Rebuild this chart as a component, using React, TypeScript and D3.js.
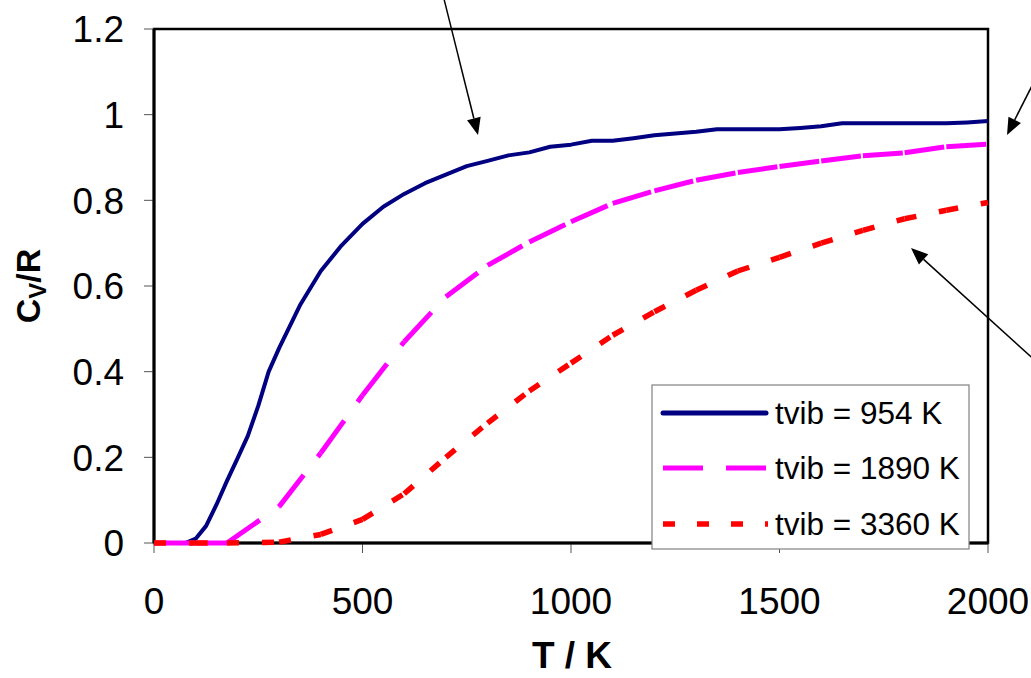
import React from 'react';
import * as d3 from 'd3';

// temperatures (K) for each curve
const tempsBlue = [0, 50, 75, 100, 125, 150, 175, 200, 225, 250, 275, 300, 350, 400, 450, 500, 550, 600, 650, 700, 750, 800, 850, 900, 950, 1000, 1050, 1100, 1150, 1200, 1250, 1300, 1350, 1400, 1450, 1500, 1550, 1600, 1650, 1700, 1750, 1800, 1850, 1900, 1950, 2000];
const cvBlue = [0, 0, 0, 0.01, 0.04, 0.09, 0.145, 0.197, 0.25, 0.32, 0.4, 0.455, 0.555, 0.635, 0.695, 0.745, 0.785, 0.815, 0.84, 0.86, 0.88, 0.892, 0.905, 0.912, 0.925, 0.93, 0.939, 0.939, 0.945, 0.952, 0.956, 0.96, 0.966, 0.966, 0.966, 0.966, 0.969, 0.973, 0.98, 0.98, 0.98, 0.98, 0.98, 0.98, 0.982, 0.985];

const tempsCoarse = [0, 100, 175, 300, 400, 500, 600, 700, 800, 900, 1000, 1100, 1200, 1300, 1400, 1500, 1600, 1700, 1800, 1900, 2000];
const cvMagenta = [0, 0, 0, 0.085, 0.21, 0.345, 0.47, 0.575, 0.648, 0.703, 0.75, 0.793, 0.822, 0.847, 0.865, 0.879, 0.892, 0.904, 0.911, 0.925, 0.931];
const cvRed = [0, 0, 0, 0.002, 0.02, 0.055, 0.115, 0.2, 0.28, 0.355, 0.42, 0.485, 0.54, 0.59, 0.635, 0.667, 0.7, 0.73, 0.757, 0.777, 0.795];

const seriesNames = ['tvib = 954 K', 'tvib = 1890 K', 'tvib = 3360 K'];
const xTicks = [0, 500, 1000, 1500, 2000];
const yTicks = [0, 0.2, 0.4, 0.6, 0.8, 1, 1.2];

const W = 1031, H = 678;
const font = '"Liberation Sans", Arial, sans-serif';

const Arrow = ({ x1, y1, x2, y2 }: { x1: number; y1: number; x2: number; y2: number }) => {
  const a = Math.atan2(y2 - y1, x2 - x1);
  const len = 17, half = 7;
  const bx = x2 - len * Math.cos(a), by = y2 - len * Math.sin(a);
  const p1 = [bx + half * Math.sin(a), by - half * Math.cos(a)];
  const p2 = [bx - half * Math.sin(a), by + half * Math.cos(a)];
  return (
    <g>
      <line x1={x1} y1={y1} x2={bx} y2={by} stroke="#000" strokeWidth={1.5} />
      <polygon points={`${x2},${y2} ${p1[0]},${p1[1]} ${p2[0]},${p2[1]}`} fill="#000" />
    </g>
  );
};

export default function App() {
  const x = d3.scaleLinear().domain([0, 2000]).range([154, 988]);
  const y = d3.scaleLinear().domain([0, 1.2]).range([543, 29]);
  const line = d3.line<[number, number]>().x(d => x(d[0])).y(d => y(d[1]));

  const blue: [number, number][] = tempsBlue.map((t, i) => [t, cvBlue[i]]);
  const magenta: [number, number][] = tempsCoarse.map((t, i) => [t, cvMagenta[i]]);
  const red: [number, number][] = tempsCoarse.map((t, i) => [t, cvRed[i]]);

  // dash pattern restarts at each data point, like the spreadsheet renderer
  const segments = (pts: [number, number][]) => d3.pairs(pts).map(p => line(p) as string);

  const [x0, x1] = x.range();
  const [yb, yt] = y.range();

  const legendRows = [413, 468, 524];

  return (
    <svg width={W} height={H} style={{ position: 'absolute', left: 0, top: 0, background: '#fff' }} fontFamily={font}>
      <rect x={0} y={0} width={W} height={H} fill="#fff" />
      {/* frame */}
      <rect x={x0} y={yt} width={x1 - x0} height={yb - yt} fill="none" stroke="#000" strokeWidth={2.5} />
      {/* y ticks */}
      {yTicks.map(t => (
        <g key={'y' + t}>
          <line x1={x0 - 10} x2={x0} y1={y(t)} y2={y(t)} stroke="#555" strokeWidth={1} />
          <text x={124} y={y(t)} dy="0.36em" textAnchor="end" fontSize={37}>{d3.format('~g')(t)}</text>
        </g>
      ))}
      {/* x ticks */}
      {xTicks.map(t => (
        <g key={'x' + t}>
          <line x1={x(t)} x2={x(t)} y1={yb} y2={yb + 10} stroke="#555" strokeWidth={1} />
          <text x={x(t)} y={614} textAnchor="middle" fontSize={37}>{t}</text>
        </g>
      ))}
      <line x1={x0} x2={x0} y1={yt} y2={yb} stroke="#000" strokeWidth={3} />
      <line x1={x0} x2={x1} y1={yb} y2={yb} stroke="#000" strokeWidth={3} />

      {/* curves */}
      <path d={line(blue) as string} fill="none" stroke="#000080" strokeWidth={4} strokeLinejoin="round" />
      {segments(magenta).map((d, i) => (
        <path key={'m' + i} d={d} fill="none" stroke="#FF00FF" strokeWidth={5} strokeDasharray="40 23" />
      ))}
      {segments(red).map((d, i) => (
        <path key={'r' + i} d={d} fill="none" stroke="#FF0000" strokeWidth={5.5} strokeDasharray="12 23" />
      ))}

      {/* legend */}
      <rect x={652} y={385} width={317} height={164} fill="#fff" stroke="#808080" strokeWidth={1.2} />
      <line x1={663} x2={766} y1={legendRows[0]} y2={legendRows[0]} stroke="#000080" strokeWidth={5} strokeLinecap="round" />
      <line x1={663} x2={767} y1={legendRows[1]} y2={legendRows[1]} stroke="#FF00FF" strokeWidth={5} strokeDasharray="40 23" />
      <line x1={663} x2={768} y1={legendRows[2]} y2={legendRows[2]} stroke="#FF0000" strokeWidth={5.5} strokeDasharray="12 22" />
      {seriesNames.map((s, i) => (
        <text key={s} x={775} y={legendRows[i]} dy="0.36em" fontSize={31.5}>{s}</text>
      ))}

      {/* axis titles */}
      <text x={572} y={668} textAnchor="middle" fontSize={37} fontWeight="bold">T / K</text>
      <text transform="translate(40,286) rotate(-90)" textAnchor="middle" fontSize={34} fontWeight="bold">
        C<tspan fontSize={24} dy={6}>V</tspan><tspan dy={-6}>/R</tspan>
      </text>

      {/* annotation arrows */}
      <Arrow x1={443} y1={-5} x2={478} y2={135} />
      <Arrow x1={1040} y1={70} x2={1007} y2={135} />
      <Arrow x1={1040} y1={365} x2={911} y2={248} />
    </svg>
  );
}
